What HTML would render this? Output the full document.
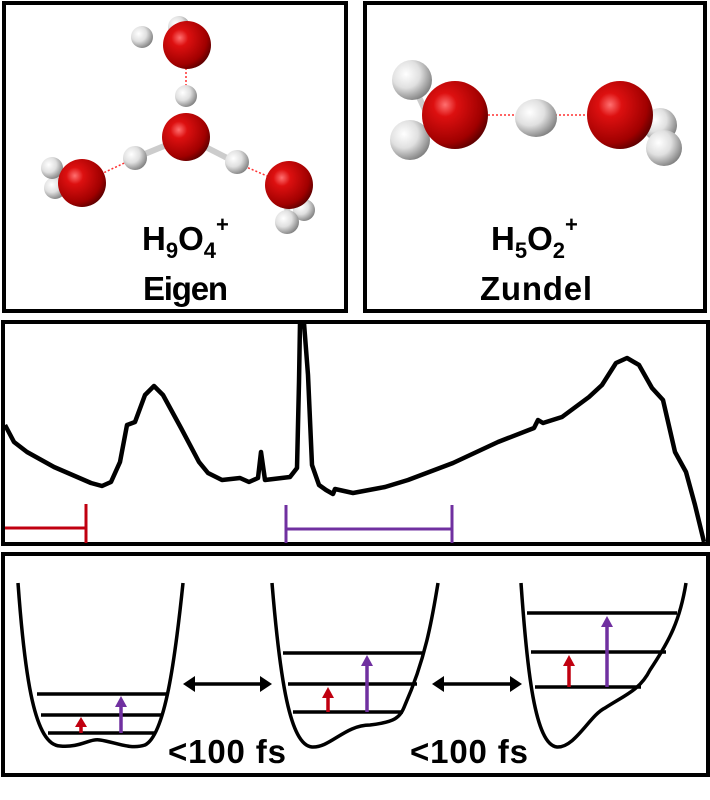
<!DOCTYPE html>
<html><head><meta charset="utf-8"><style>
html,body{margin:0;padding:0;background:#fff;}
svg{display:block;}
text{font-family:"Liberation Sans",sans-serif;font-weight:bold;}
</style></head><body>
<svg width="710" height="800" viewBox="0 0 710 800" xmlns="http://www.w3.org/2000/svg">
<defs>
<radialGradient id="ox" cx="0.35" cy="0.35" r="0.7"><stop offset="0" stop-color="#ff7070"/><stop offset="0.25" stop-color="#dd1010"/><stop offset="0.8" stop-color="#a00000"/><stop offset="1" stop-color="#600000"/></radialGradient>
<radialGradient id="hy" cx="0.35" cy="0.35" r="0.7"><stop offset="0" stop-color="#ffffff"/><stop offset="0.5" stop-color="#e0e0e0"/><stop offset="1" stop-color="#808080"/></radialGradient>
</defs>
<g fill="none" stroke="#000" stroke-width="4">
<rect x="4" y="3" width="342" height="308"/>
<rect x="365" y="3" width="340" height="308"/>
<rect x="3" y="322" width="705" height="222"/>
<rect x="3" y="554" width="705" height="221"/>
</g>
<!-- Eigen -->
<g stroke="#ff3030" stroke-width="1.5" stroke-dasharray="2,2">
<line x1="186" y1="60" x2="186" y2="108"/>
<line x1="135" y1="158" x2="82" y2="183"/>
<line x1="237" y1="163" x2="288" y2="185"/>
</g>
<g stroke="#ccc" stroke-width="6">
<line x1="186" y1="137" x2="186" y2="122"/><line x1="186" y1="137" x2="135" y2="158"/><line x1="186" y1="137" x2="237" y2="163"/>
<line x1="80" y1="183" x2="55" y2="188"/><line x1="288" y1="185" x2="287" y2="222"/>
<line x1="425" y1="110" x2="412" y2="82"/><line x1="455" y1="115" x2="410" y2="140"/><line x1="640" y1="120" x2="665" y2="148"/>
</g>
<circle cx="142" cy="37" r="11" fill="url(#hy)"/>
<circle cx="179" cy="27" r="11" fill="url(#hy)"/>
<circle cx="187" cy="45" r="24" fill="url(#ox)"/>
<circle cx="186" cy="96" r="11" fill="url(#hy)"/>
<circle cx="186" cy="137" r="24" fill="url(#ox)"/>
<circle cx="135" cy="158" r="12" fill="url(#hy)"/>
<circle cx="237" cy="162" r="12" fill="url(#hy)"/>
<circle cx="55" cy="188" r="11" fill="url(#hy)"/>
<circle cx="52" cy="168" r="11" fill="url(#hy)"/>
<circle cx="82" cy="183" r="24" fill="url(#ox)"/>
<circle cx="304" cy="210" r="11" fill="url(#hy)"/>
<circle cx="289" cy="185" r="24" fill="url(#ox)"/>
<circle cx="287" cy="222" r="12" fill="url(#hy)"/>
<text x="142" y="250" font-size="33">H<tspan font-size="22" dy="8">9</tspan><tspan dy="-8">O</tspan><tspan font-size="22" dy="8">4</tspan><tspan font-size="22" dy="-26">+</tspan></text>
<text x="143" y="300" font-size="33" textLength="85">Eigen</text>
<!-- Zundel -->
<g stroke="#ff3030" stroke-width="1.5" stroke-dasharray="2,2">
<line x1="480" y1="115" x2="520" y2="115"/><line x1="555" y1="115" x2="595" y2="115"/>
</g>
<circle cx="412" cy="80" r="20" fill="url(#hy)"/>
<circle cx="410" cy="140" r="20" fill="url(#hy)"/>
<ellipse cx="455" cy="115" rx="33" ry="34" fill="url(#ox)"/>
<ellipse cx="536" cy="118" rx="21" ry="19" fill="url(#hy)"/>
<circle cx="660" cy="125" r="17" fill="url(#hy)"/>
<ellipse cx="620" cy="115" rx="33" ry="34" fill="url(#ox)"/>
<circle cx="664" cy="148" r="18" fill="url(#hy)"/>
<text x="491" y="250" font-size="33">H<tspan font-size="22" dy="8">5</tspan><tspan dy="-8">O</tspan><tspan font-size="22" dy="8">2</tspan><tspan font-size="22" dy="-26">+</tspan></text>
<text x="480" y="300" font-size="33" textLength="112">Zundel</text>
<!-- spectrum -->
<polyline fill="none" stroke="#000" stroke-width="4.5" stroke-linejoin="round" points="5,425 14,442 27,452 54,467 91,483 102,486 111,482 120,462 127,425 135,422 145,395 154,386 163,395 181,428 199,462 208,473 222,480 240,478 249,482 258,478 261,452 265,480 290,477 297,468 299,382 300,323 304,323 308,375 312,465 319,485 326,490 333,494 335,489 353,493 385,487 408,480 453,463 498,442 534,428 538,420 543,423 562,417 589,397 602,385 616,363 627,358 639,365 652,388 663,400 675,452 686,472 695,505 704,542"/>
<g stroke="#c00010" stroke-width="3"><line x1="5" y1="528" x2="86" y2="528"/><line x1="86" y1="504" x2="86" y2="543"/></g>
<g stroke="#7030a0" stroke-width="3"><line x1="286" y1="529" x2="452" y2="529"/><line x1="286" y1="505" x2="286" y2="543"/><line x1="452" y1="505" x2="452" y2="543"/></g>
<!-- wells -->
<g fill="none" stroke="#000" stroke-width="3.5">
<path d="M18,583 C25,680 35,745 60,746 C80,748 90,738 100,740 C115,742 130,750 145,745 C165,735 175,660 183,583"/>
<path d="M272,583 C280,680 290,745 312,747 C330,748 345,725 370,725 C395,722 400,718 405,705 C425,660 432,620 438,583"/>
<path d="M521,583 C527,670 535,745 557,747 C575,748 590,715 605,708 C625,695 640,690 650,670 C670,640 680,620 686,583"/>
<line x1="37" y1="694" x2="166" y2="694"/><line x1="41" y1="715" x2="162" y2="715"/><line x1="48" y1="733" x2="155" y2="733"/>
<line x1="283" y1="653" x2="424" y2="653"/><line x1="288" y1="684" x2="417" y2="684"/><line x1="293" y1="712" x2="403" y2="712"/>
<line x1="527" y1="613" x2="677" y2="613"/><line x1="531" y1="652" x2="666" y2="652"/><line x1="535" y1="687" x2="641" y2="687"/>
<line x1="190" y1="684" x2="265" y2="684"/><line x1="439" y1="684" x2="515" y2="684"/>
</g>
<g fill="#000">
<polygon points="183,684 195,676 195,692"/><polygon points="272,684 260,676 260,692"/>
<polygon points="432,684 444,676 444,692"/><polygon points="522,684 510,676 510,692"/>
</g>
<g stroke-width="3.5">
<line x1="81" y1="733" x2="81" y2="725" stroke="#c00010"/><polygon points="81,717 75,727 87,727" fill="#c00010"/>
<line x1="121" y1="733" x2="121" y2="705" stroke="#7030a0"/><polygon points="121,696 115,707 127,707" fill="#7030a0"/>
<line x1="328" y1="712" x2="328" y2="696" stroke="#c00010"/><polygon points="328,687 322,698 334,698" fill="#c00010"/>
<line x1="367" y1="712" x2="367" y2="664" stroke="#7030a0"/><polygon points="367,655 361,666 373,666" fill="#7030a0"/>
<line x1="569" y1="687" x2="569" y2="664" stroke="#c00010"/><polygon points="569,655 563,666 575,666" fill="#c00010"/>
<line x1="607" y1="687" x2="607" y2="625" stroke="#7030a0"/><polygon points="607,616 601,627 613,627" fill="#7030a0"/>
</g>
<text x="168" y="763" font-size="33" textLength="118">&lt;100 fs</text>
<text x="410" y="763" font-size="33" textLength="118">&lt;100 fs</text>
</svg>
</body></html>
